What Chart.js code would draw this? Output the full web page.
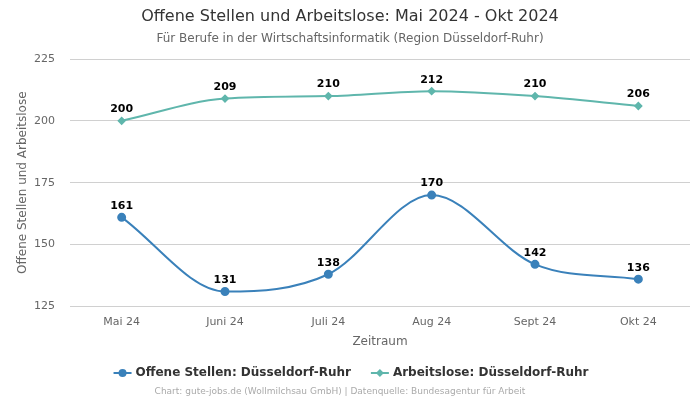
<!DOCTYPE html>
<html>
<head>
<meta charset="utf-8">
<script src="https://cdn.jsdelivr.net/npm/chart.js@4"></script>
<style>
  body { margin: 0; background: #fff; }
  #wrap { width: 700px; height: 400px; }
</style>
</head>
<body>
<div id="wrap"><canvas id="chart" width="700" height="400"></canvas></div>
<script>
const months = ['Mai 24', 'Juni 24', 'Juli 24', 'Aug 24', 'Sept 24', 'Okt 24'];
const offeneStellen = [161, 131, 138, 170, 142, 136];
const arbeitslose = [200, 209, 210, 212, 210, 206];
const yTicks = [125, 150, 175, 200, 225];

const FONT = "'DejaVu Sans', sans-serif";
const blue = '#3a81ba';
const teal = '#5fb6ac';

// value labels, legend and the text above / below the plot
const decorations = {
    id: 'decorations',
    afterDatasetsDraw(chart) {
        const ctx = chart.ctx;
        ctx.save();
        ctx.font = 'bold 11px ' + FONT;
        ctx.fillStyle = '#000';
        ctx.textAlign = 'center';
        ctx.textBaseline = 'bottom';
        chart.data.datasets.forEach((ds, i) => {
            chart.getDatasetMeta(i).data.forEach((pt, j) => {
                ctx.fillText(ds.data[j], pt.x, pt.y - 6);
            });
        });
        ctx.restore();
    },
    afterDraw(chart) {
        const ctx = chart.ctx;
        const w = chart.width;
        ctx.save();
        ctx.textAlign = 'center';
        ctx.textBaseline = 'middle';

        ctx.fillStyle = '#333';
        ctx.font = '16px ' + FONT;
        ctx.fillText('Offene Stellen und Arbeitslose: Mai 2024 - Okt 2024', w / 2, 17);
        ctx.fillStyle = '#666';
        ctx.font = '12px ' + FONT;
        ctx.fillText('Für Berufe in der Wirtschaftsinformatik (Region Düsseldorf-Ruhr)', w / 2, 39);

        // legend
        ctx.font = 'bold 12px ' + FONT;
        const items = chart.data.datasets.map(ds => ({ text: ds.label, color: ds.borderColor, style: ds.pointStyle }));
        const box = 22, gap = 20;
        const widths = items.map(it => box + ctx.measureText(it.text).width);
        const total = widths.reduce((a, b) => a + b, 0) + gap;
        let x = w / 2 - total / 2 + 1;
        const y = 373;
        items.forEach((it, i) => {
            ctx.strokeStyle = it.color;
            ctx.fillStyle = it.color;
            ctx.lineWidth = 2;
            ctx.beginPath();
            ctx.moveTo(x, y);
            ctx.lineTo(x + 18, y);
            ctx.stroke();
            ctx.beginPath();
            if (it.style === 'circle') {
                ctx.arc(x + 9, y, 4, 0, Math.PI * 2);
            } else {
                ctx.moveTo(x + 9, y - 4);
                ctx.lineTo(x + 13, y);
                ctx.lineTo(x + 9, y + 4);
                ctx.lineTo(x + 5, y);
                ctx.closePath();
            }
            ctx.fill();
            ctx.fillStyle = '#333';
            ctx.textAlign = 'left';
            ctx.fillText(it.text, x + box, y);
            x += widths[i] + gap;
        });

        ctx.textAlign = 'center';
        ctx.fillStyle = '#aaa';
        ctx.font = '9px ' + FONT;
        ctx.fillText('Chart: gute-jobs.de (Wollmilchsau GmbH) | Datenquelle: Bundesagentur für Arbeit', 340, 392);
        ctx.restore();
    }
};

new Chart(document.getElementById('chart'), {
    type: 'line',
    data: {
        labels: months,
        datasets: [
            {
                label: 'Offene Stellen: Düsseldorf-Ruhr',
                data: offeneStellen,
                borderColor: blue,
                backgroundColor: blue,
                pointStyle: 'circle',
                pointRadius: 3.5,
                borderWidth: 2,
                cubicInterpolationMode: 'monotone'
            },
            {
                label: 'Arbeitslose: Düsseldorf-Ruhr',
                data: arbeitslose,
                borderColor: teal,
                backgroundColor: teal,
                pointStyle: 'rectRot',
                pointRadius: 3,
                borderWidth: 2,
                cubicInterpolationMode: 'monotone'
            }
        ]
    },
    options: {
        responsive: false,
        animation: false,
        layout: { padding: { top: 59, right: 10, bottom: 47, left: 16 } },
        plugins: {
            legend: { display: false },
            title: { display: false },
            tooltip: { enabled: false }
        },
        scales: {
            x: {
                offset: true,
                grid: { display: false },
                border: { display: false },
                ticks: { color: '#666', font: { family: FONT, size: 11 }, padding: 1 },
                title: { display: true, text: 'Zeitraum', color: '#666', font: { family: FONT, size: 12 }, padding: { top: 5 } }
            },
            y: {
                min: 125,
                max: 225,
                afterBuildTicks(axis) { axis.ticks = yTicks.map(v => ({ value: v })); },
                afterFit(axis) { axis.width = 54; },
                grid: { color: '#d0d0d0', drawTicks: false },
                border: { display: false },
                ticks: { color: '#666', font: { family: FONT, size: 11 }, padding: 15 },
                title: { display: true, text: 'Offene Stellen und Arbeitslose', color: '#666', font: { family: FONT, size: 12 }, padding: 0 }
            }
        }
    },
    plugins: [decorations]
});
</script>
</body>
</html>
